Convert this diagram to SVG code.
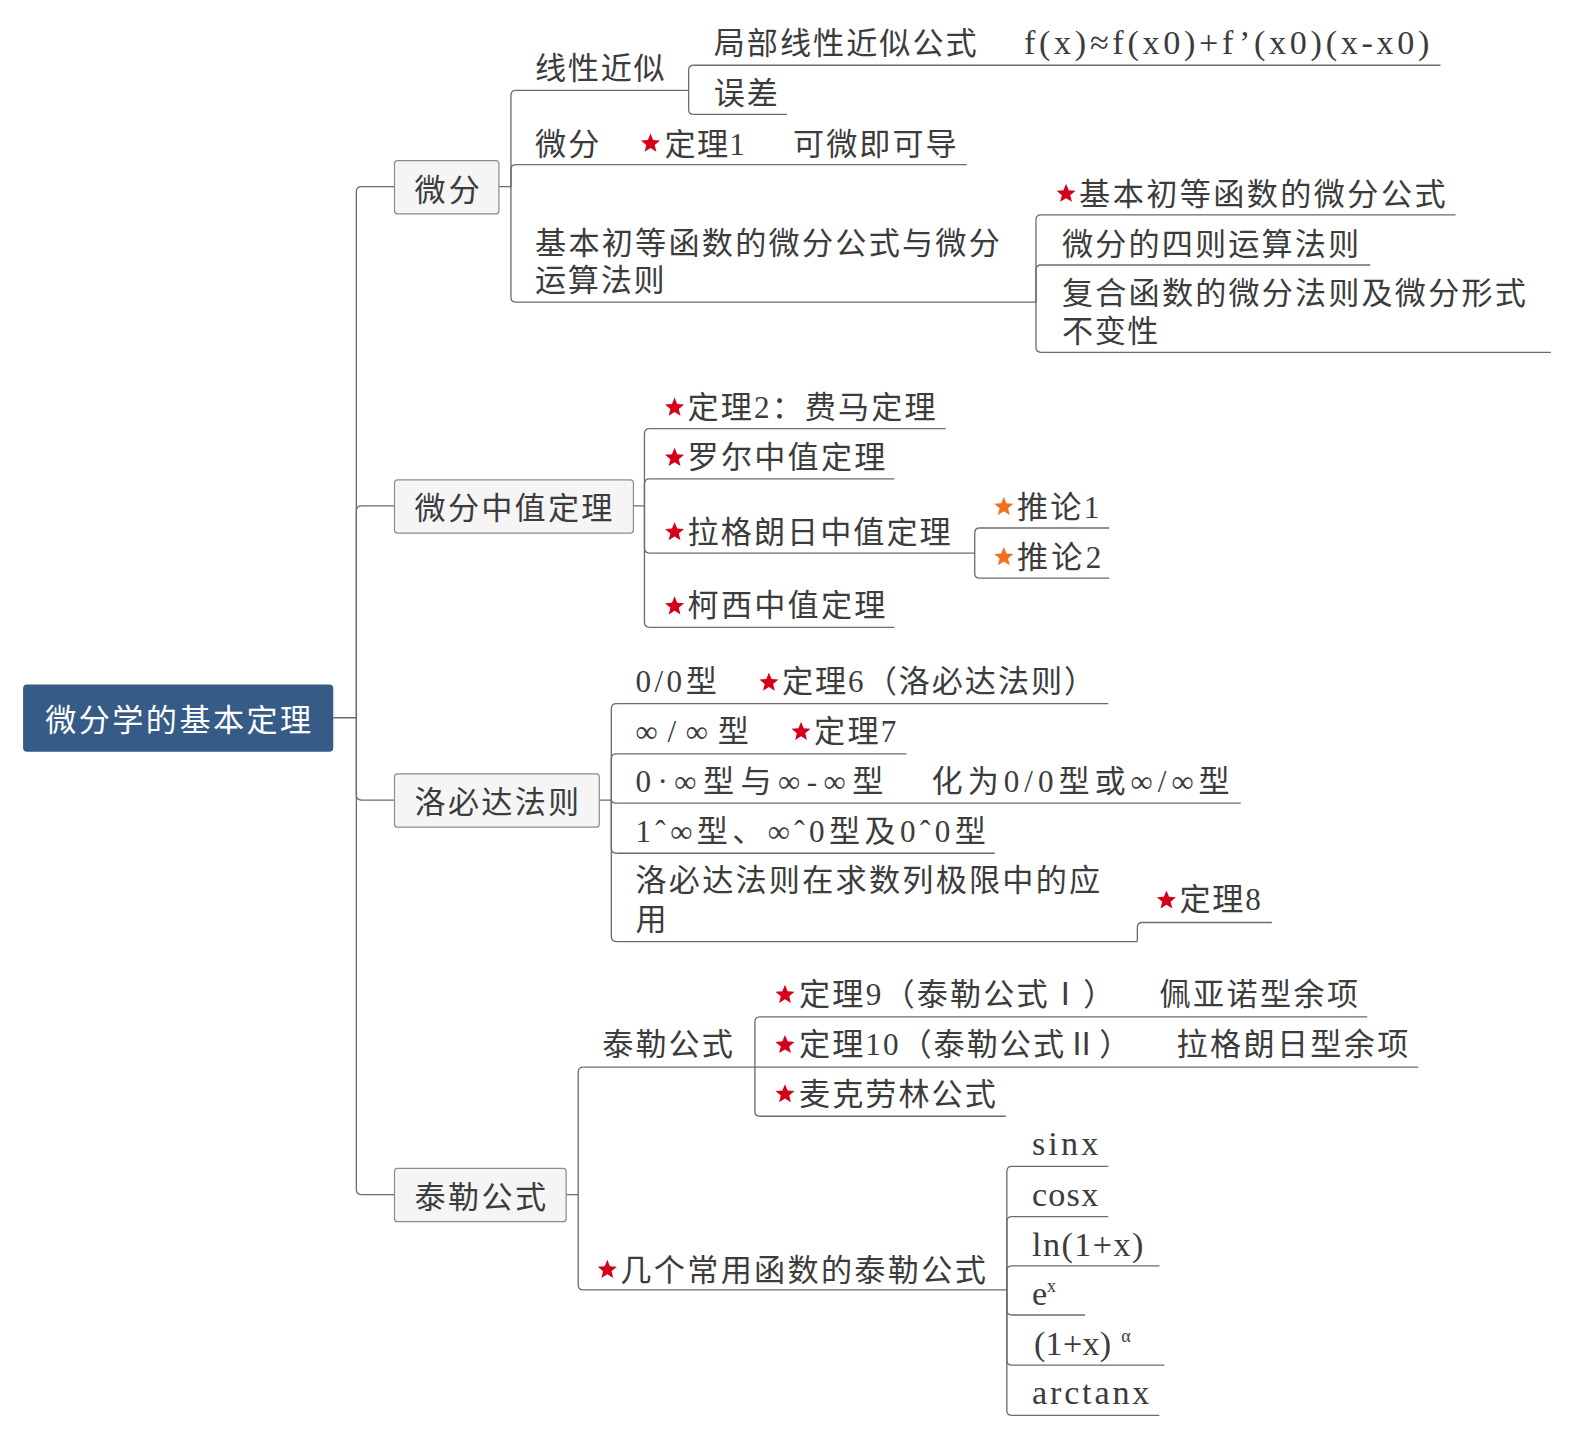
<svg xmlns="http://www.w3.org/2000/svg" xmlns:xlink="http://www.w3.org/1999/xlink" width="1574" height="1436" viewBox="0 0 1574 1436">
<style>
.t{font-family:'Liberation Serif','Noto Sans CJK SC',serif;font-size:31px;fill:#3c3c3c}
.l{font-size:34px}
.w{fill:#ffffff}
.sup{font-family:'Liberation Serif','Noto Sans CJK SC',serif;font-size:18px;fill:#3c3c3c}
.u{stroke:#6b6b6b;stroke-width:1.3;fill:none}
.c{stroke:#6b6b6b;stroke-width:1.3;fill:none}
.box{fill:#f5f5f5;stroke:#8c8c8c;stroke-width:1.2}
.root{fill:#365b87}
.sr{fill:#d7001b}
.so{fill:#f26f21}
</style>
<defs>
<path id="star" d="M0,-10 L2.6,-3.6 L9.5,-3.1 L4.2,1.4 L5.9,8.1 L0,4.4 L-5.9,8.1 L-4.2,1.4 L-9.5,-3.1 L-2.6,-3.6 Z"/>
</defs>
<rect width="1574" height="1436" fill="#ffffff"/>
<g transform="scale(1.00383)">
<g id="connectors">
<path class="c" d="M332,715 H355 V191 Q355,186 360,186 H393"/>
<path class="c" d="M355,715 V509 Q355,504 360,504 H393"/>
<path class="c" d="M355,715 V792 Q355,797 360,797 H393"/>
<path class="c" d="M355,715 V1185 Q355,1190 360,1190 H393"/>
<path class="c" d="M497,186 H509 V95 Q509,90 514,90"/>
<path class="c" d="M509,186 V169 Q509,164 514,164"/>
<path class="c" d="M509,186 V296 Q509,301 514,301"/>
<path class="c" d="M686,90 V70 Q686,65 691,65"/>
<path class="c" d="M686,90 V109 Q686,114 691,114"/>
<path class="c" d="M1032,301 V219 Q1032,214 1037,214"/>
<path class="c" d="M1032,301 V269 Q1032,264 1037,264"/>
<path class="c" d="M1032,301 V346 Q1032,351 1037,351"/>
<path class="c" d="M631,504 H642 V432 Q642,427 647,427"/>
<path class="c" d="M642,504 V482 Q642,477 647,477"/>
<path class="c" d="M642,504 V546 Q642,551 647,551"/>
<path class="c" d="M642,504 V620 Q642,625 647,625"/>
<path class="c" d="M971,551 V531 Q971,526 976,526"/>
<path class="c" d="M971,551 V571 Q971,576 976,576"/>
<path class="c" d="M597,797 H609 V706 Q609,701 614,701"/>
<path class="c" d="M609,797 V756 Q609,751 614,751"/>
<path class="c" d="M609,797 Q609,800 614,800"/>
<path class="c" d="M609,797 V845 Q609,850 614,850"/>
<path class="c" d="M609,797 V933 Q609,938 614,938"/>
<path class="c" d="M1133,938 V924 Q1133,919 1138,919"/>
<path class="c" d="M564,1190 H576 V1068 Q576,1063 581,1063"/>
<path class="c" d="M576,1190 V1280 Q576,1285 581,1285"/>
<path class="c" d="M752,1063 V1018 Q752,1013 757,1013"/>
<path class="c" d="M752,1063 H757"/>
<path class="c" d="M752,1063 V1107 Q752,1112 757,1112"/>
<path class="c" d="M1003,1285 V1167 Q1003,1162 1008,1162"/>
<path class="c" d="M1003,1285 V1217 Q1003,1212 1008,1212"/>
<path class="c" d="M1003,1285 V1266 Q1003,1261 1008,1261"/>
<path class="c" d="M1003,1285 V1305 Q1003,1310 1008,1310"/>
<path class="c" d="M1003,1285 V1355 Q1003,1360 1008,1360"/>
<path class="c" d="M1003,1285 V1405 Q1003,1410 1008,1410"/>
</g>
<g id="root">
<rect class="root" x="23" y="682" width="309" height="67" rx="4"/>
<text class="t w" x="45" y="728" textLength="265" lengthAdjust="spacing">微分学的基本定理</text>
</g>
<g id="n-weifen">
<rect class="box" x="393" y="160" width="104" height="53" rx="3"/>
<text class="t" x="413" y="200" textLength="65" lengthAdjust="spacing">微分</text>
</g>
<g id="n-xianxing">
<text class="t" x="533" y="79" textLength="129" lengthAdjust="spacing">线性近似</text>
<path class="u" d="M514,90 H686"/>
</g>
<g id="n-jubu">
<text class="t" x="711" y="54" textLength="262" lengthAdjust="spacing">局部线性近似公式</text>
<text class="t l" x="1020" y="54" textLength="404" lengthAdjust="spacing">f(x)≈f(x0)+f’(x0)(x-x0)</text>
<path class="u" d="M691,65 H1435"/>
</g>
<g id="n-wucha">
<text class="t" x="711" y="104" textLength="64" lengthAdjust="spacing">误差</text>
<path class="u" d="M691,114 H784"/>
</g>
<g id="n-weifen2">
<text class="t" x="533" y="154" textLength="64" lengthAdjust="spacing">微分</text>
<use href="#star" x="648" y="143" class="sr"/>
<text class="t" x="662" y="154" textLength="80" lengthAdjust="spacing">定理1</text>
<text class="t" x="790" y="154" textLength="163" lengthAdjust="spacing">可微即可导</text>
<path class="u" d="M514,164 H963"/>
</g>
<g id="n-jiben">
<text class="t" x="533" y="253" textLength="463" lengthAdjust="spacing">基本初等函数的微分公式与微分</text>
<text class="t" x="533" y="290" textLength="129" lengthAdjust="spacing">运算法则</text>
<path class="u" d="M514,301 H1032"/>
</g>
<g id="n-jiben-gs">
<use href="#star" x="1062" y="193" class="sr"/>
<text class="t" x="1075" y="204" textLength="365" lengthAdjust="spacing">基本初等函数的微分公式</text>
<path class="u" d="M1037,214 H1450"/>
</g>
<g id="n-sice">
<text class="t" x="1058" y="254" textLength="296" lengthAdjust="spacing">微分的四则运算法则</text>
<path class="u" d="M1037,264 H1365"/>
</g>
<g id="n-fuhe">
<text class="t" x="1058" y="303" textLength="462" lengthAdjust="spacing">复合函数的微分法则及微分形式</text>
<text class="t" x="1058" y="341" textLength="96" lengthAdjust="spacing">不变性</text>
<path class="u" d="M1037,351 H1545"/>
</g>
<g id="n-zhongzhi">
<rect class="box" x="393" y="478" width="238" height="53" rx="3"/>
<text class="t" x="413" y="517" textLength="197" lengthAdjust="spacing">微分中值定理</text>
</g>
<g id="n-fema">
<use href="#star" x="672" y="406" class="sr"/>
<text class="t" x="685" y="416" textLength="247" lengthAdjust="spacing">定理2：费马定理</text>
<path class="u" d="M647,427 H942"/>
</g>
<g id="n-luoer">
<use href="#star" x="672" y="456" class="sr"/>
<text class="t" x="685" y="466" textLength="197" lengthAdjust="spacing">罗尔中值定理</text>
<path class="u" d="M647,477 H891"/>
</g>
<g id="n-lagelangri">
<use href="#star" x="672" y="530" class="sr"/>
<text class="t" x="685" y="541" textLength="262" lengthAdjust="spacing">拉格朗日中值定理</text>
<path class="u" d="M647,551 H971"/>
</g>
<g id="n-tuilun1">
<use href="#star" x="1000" y="505" class="so"/>
<text class="t" x="1013" y="516" textLength="82" lengthAdjust="spacing">推论1</text>
<path class="u" d="M976,526 H1105"/>
</g>
<g id="n-tuilun2">
<use href="#star" x="1000" y="555" class="so"/>
<text class="t" x="1013" y="566" textLength="84" lengthAdjust="spacing">推论2</text>
<path class="u" d="M976,576 H1105"/>
</g>
<g id="n-kexi">
<use href="#star" x="672" y="604" class="sr"/>
<text class="t" x="685" y="614" textLength="197" lengthAdjust="spacing">柯西中值定理</text>
<path class="u" d="M647,625 H891"/>
</g>
<g id="n-luobida">
<rect class="box" x="393" y="771" width="204" height="53" rx="3"/>
<text class="t" x="413" y="810" textLength="164" lengthAdjust="spacing">洛必达法则</text>
</g>
<g id="n-00">
<text class="t" x="633" y="689" textLength="81" lengthAdjust="spacing">0/0型</text>
<use href="#star" x="766" y="680" class="sr"/>
<text class="t" x="779" y="689" textLength="312" lengthAdjust="spacing">定理6（洛必达法则）</text>
<path class="u" d="M614,701 H1104"/>
</g>
<g id="n-inf">
<text class="t" x="633" y="739" textLength="113" lengthAdjust="spacing">∞/∞型</text>
<use href="#star" x="798" y="729" class="sr"/>
<text class="t" x="811" y="739" textLength="82" lengthAdjust="spacing">定理7</text>
<path class="u" d="M614,751 H903"/>
</g>
<g id="n-0inf">
<text class="t" x="633" y="789" textLength="247" lengthAdjust="spacing">0·∞型与∞-∞型</text>
<text class="t" x="928" y="789" textLength="297" lengthAdjust="spacing">化为0/0型或∞/∞型</text>
<path class="u" d="M614,800 H1236"/>
</g>
<g id="n-1inf">
<text class="t" x="633" y="839" textLength="349" lengthAdjust="spacing">1ˆ∞型、∞ˆ0型及0ˆ0型</text>
<path class="u" d="M614,850 H991"/>
</g>
<g id="n-shulie">
<text class="t" x="633" y="888" textLength="463" lengthAdjust="spacing">洛必达法则在求数列极限中的应</text>
<text class="t" x="633" y="926" textLength="30" lengthAdjust="spacing">用</text>
<path class="u" d="M614,938 H1133"/>
</g>
<g id="n-dingli8">
<use href="#star" x="1162" y="897" class="sr"/>
<text class="t" x="1175" y="907" textLength="81" lengthAdjust="spacing">定理8</text>
<path class="u" d="M1138,919 H1267"/>
</g>
<g id="n-taile">
<rect class="box" x="393" y="1164" width="171" height="53" rx="3"/>
<text class="t" x="413" y="1203" textLength="131" lengthAdjust="spacing">泰勒公式</text>
</g>
<g id="n-taile2">
<text class="t" x="600" y="1051" textLength="130" lengthAdjust="spacing">泰勒公式</text>
<path class="u" d="M581,1063 H752"/>
</g>
<g id="n-dingli9">
<use href="#star" x="782" y="991" class="sr"/>
<text class="t" x="796" y="1001" textLength="314" lengthAdjust="spacing">定理9（泰勒公式Ⅰ）</text>
<text class="t" x="1155" y="1001" textLength="198" lengthAdjust="spacing">佩亚诺型余项</text>
<path class="u" d="M757,1013 H1362"/>
</g>
<g id="n-dingli10">
<use href="#star" x="782" y="1041" class="sr"/>
<text class="t" x="796" y="1051" textLength="330" lengthAdjust="spacing">定理10（泰勒公式Ⅱ）</text>
<text class="t" x="1172" y="1051" textLength="231" lengthAdjust="spacing">拉格朗日型余项</text>
<path class="u" d="M757,1063 H1413"/>
</g>
<g id="n-maike">
<use href="#star" x="782" y="1090" class="sr"/>
<text class="t" x="796" y="1101" textLength="196" lengthAdjust="spacing">麦克劳林公式</text>
<path class="u" d="M757,1112 H1002"/>
</g>
<g id="n-changyong">
<use href="#star" x="605" y="1265" class="sr"/>
<text class="t" x="618" y="1276" textLength="364" lengthAdjust="spacing">几个常用函数的泰勒公式</text>
<path class="u" d="M581,1285 H1003"/>
</g>
<g id="n-sinx">
<text class="t l" x="1028" y="1151" textLength="66" lengthAdjust="spacing">sinx</text>
<path class="u" d="M1008,1162 H1104"/>
</g>
<g id="n-cosx">
<text class="t l" x="1028" y="1201" textLength="66" lengthAdjust="spacing">cosx</text>
<path class="u" d="M1008,1212 H1104"/>
</g>
<g id="n-ln">
<text class="t l" x="1028" y="1251" textLength="111" lengthAdjust="spacing">ln(1+x)</text>
<path class="u" d="M1008,1261 H1155"/>
</g>
<g id="n-ex">
<text class="t l" x="1028" y="1300">e<tspan class="sup" dy="-13">x</tspan></text>
<path class="u" d="M1008,1310 H1081"/>
</g>
<g id="n-1xa">
<text class="t l" x="1030" y="1350" textLength="77" lengthAdjust="spacing">(1+x)</text>
<text class="sup" x="1117" y="1337">α</text>
<path class="u" d="M1008,1360 H1160"/>
</g>
<g id="n-arctan">
<text class="t l" x="1028" y="1399" textLength="117" lengthAdjust="spacing">arctanx</text>
<path class="u" d="M1008,1410 H1155"/>
</g>
</g>
</svg>
